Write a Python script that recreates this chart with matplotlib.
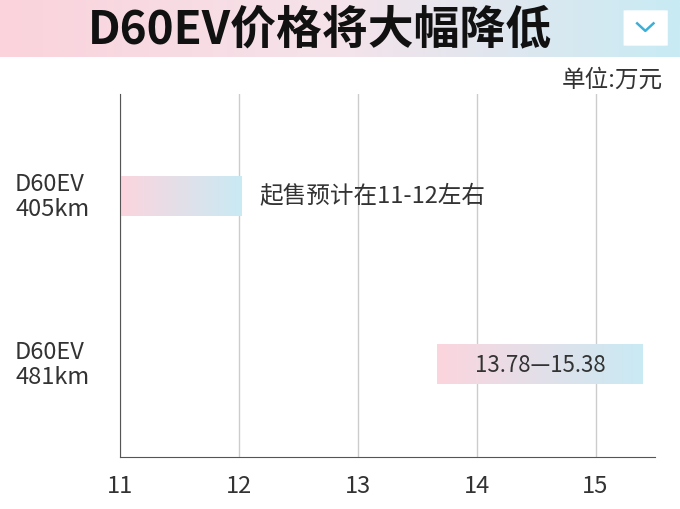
import matplotlib
matplotlib.use("Agg")
import matplotlib.pyplot as plt
import numpy as np
from matplotlib.patches import FancyBboxPatch
from matplotlib.colors import LinearSegmentedColormap

plt.rcParams["font.family"] = ["Noto Sans CJK SC"]

categories = ["D60EV\n405km", "D60EV\n481km"]
bar_start = [11.0, 13.67]
bar_end = [12.02, 15.4]
bar_text = ["起售预计在11-12左右", "13.78—15.38"]
xticks = [11, 12, 13, 14, 15]

fig = plt.figure(figsize=(6.8, 5.1), dpi=100)
hax = fig.add_axes([0, 1 - 58/510, 1, 58/510])
grad = np.linspace(0, 1, 256)[None, :]
cmap = LinearSegmentedColormap.from_list("pb", ["#fbd3dc", "#f5e3ea", "#c8ebf4"])
hax.imshow(grad, aspect="auto", cmap=cmap, extent=[0, 1, 0, 1])
hax.set_xlim(0, 1); hax.set_ylim(0, 1); hax.axis("off")
hax.text(0.47, 0.48, "D60EV价格将大幅降低", ha="center", va="center",
         fontsize=33, fontweight="bold", color="#111111")
hax.add_patch(FancyBboxPatch((0.922, 0.2), 0.055, 0.6, boxstyle="round,pad=0.005",
                             fc="white", ec="none"))
hax.plot([0.937, 0.949, 0.961], [0.58, 0.45, 0.58], color="#3ab0d8", lw=1.8)

ax = fig.add_axes([120/680, 1 - 458/510, 535/680, 363/510])
ax.set_xlim(11, 15.5)
ax.set_ylim(1.553, -0.607)
for t in xticks:
    ax.axvline(t, color="#cccccc", lw=1, zorder=0)
ypos = [0.0, 1.0]
bh = 0.238
bcmap = LinearSegmentedColormap.from_list("b", ["#fcd5de", "#c9eaf4"])
for y, s, e, txt in zip(ypos, bar_start, bar_end, bar_text):
    ax.imshow(grad, aspect="auto", cmap=bcmap, extent=[s, e, y + bh/2, y - bh/2], zorder=2)
    if s == 11.0:
        ax.text(e + 0.15, y, txt, ha="left", va="center", fontsize=17, color="#333333")
    else:
        ax.text((s + e)/2, y, txt, ha="center", va="center", fontsize=16, color="#333333")
ax.set_yticks(ypos)
ax.set_yticklabels([])
for y, c in zip(ypos, categories):
    ax.text(11 - 105/535*4.5, y, c, ha="left", va="center", fontsize=17,
            color="#333333", linespacing=1.1)
ax.set_xticks(xticks)
ax.set_xticklabels([str(t) for t in xticks], fontsize=17, color="#333333")
ax.tick_params(length=0, pad=12)
for sp in ["top", "right"]:
    ax.spines[sp].set_visible(False)
ax.spines["left"].set_color("#555555")
ax.spines["bottom"].set_color("#555555")
fig.text(0.975, 1 - 80/510, "单位:万元", ha="right", va="center", fontsize=17, color="#333333")
fig.savefig("out.png", dpi=100)
